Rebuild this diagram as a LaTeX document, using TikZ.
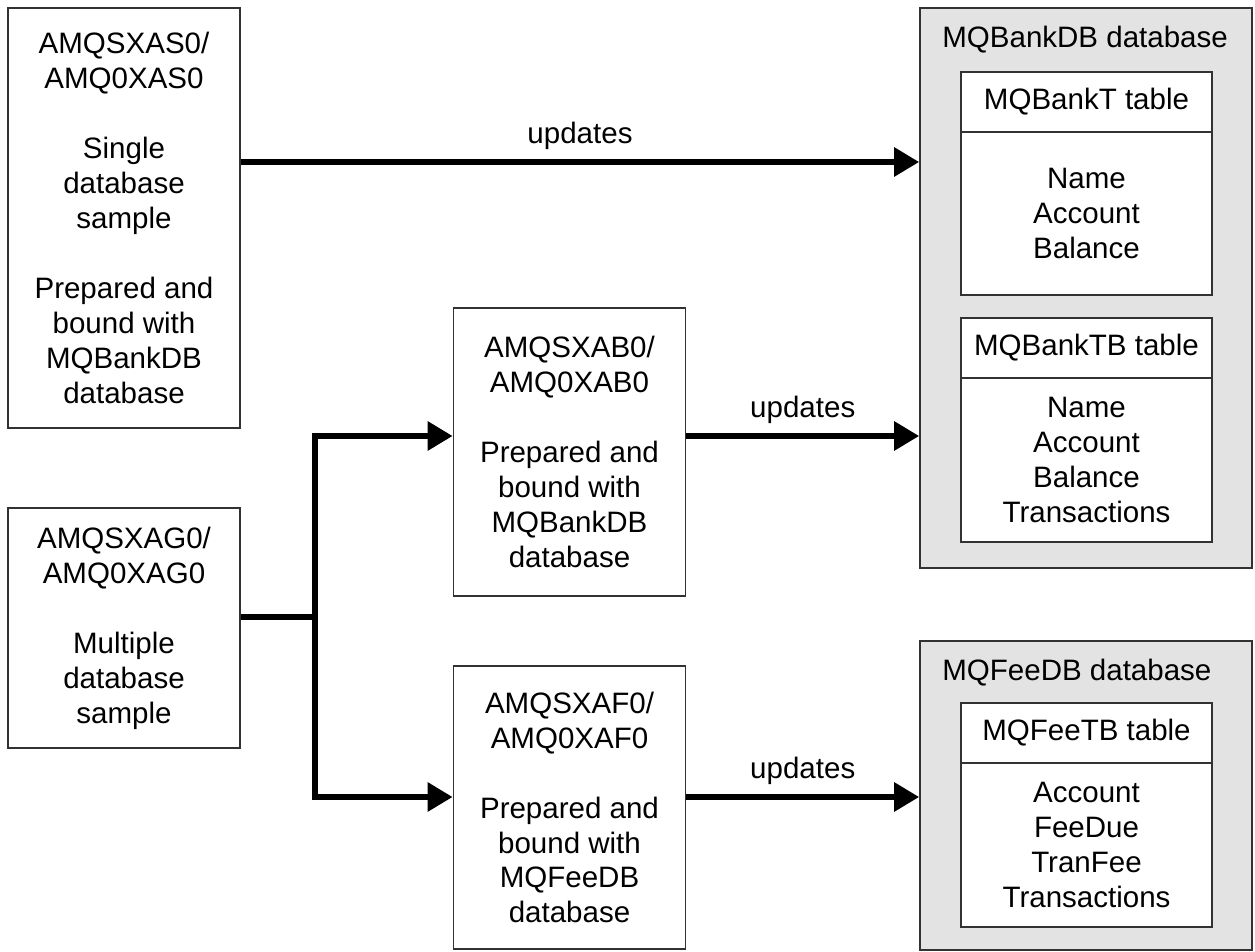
\documentclass[tikz,border=0pt]{standalone}
\usepackage{fontspec}
\setmainfont{Liberation Sans}
\usetikzlibrary{arrows.meta}

\definecolor{dbgray}{RGB}{227,227,227}
\definecolor{boxline}{RGB}{50,50,50}

\begin{document}
\begin{tikzpicture}[x=0.02cm, y=-0.02cm,
  every node/.style={font=\fontsize{16.8}{19.9}\selectfont},
  prog/.style={draw=boxline, line width=1pt, fill=white, align=center, minimum width=4.64cm, inner sep=0pt},
  db/.style={draw=boxline, line width=1pt, fill=dbgray, minimum width=6.64cm, inner sep=0pt},
  tabhead/.style={draw=boxline, line width=1pt, fill=white, minimum width=5.02cm, minimum height=1.2cm, inner sep=0pt},
  tabbody/.style={draw=boxline, line width=1pt, fill=white, align=center, minimum width=5.02cm, minimum height=3.28cm, inner sep=0pt},
  dbtitle/.style={anchor=west, inner sep=0pt},
  flow/.style={line width=3.4pt, -{Triangle[length=0.5cm, width=0.56cm]}}]
  \useasboundingbox (0,0) rectangle (1255,952);
  % programs
  \node[prog, minimum height=8.4cm] (as) at (124,218) {AMQSXAS0/\\AMQ0XAS0\\[\baselineskip]Single\\database\\sample\\[\baselineskip]Prepared and\\bound with\\MQBankDB\\database};
  \node[prog, minimum height=4.8cm] (ag) at (124,628) {AMQSXAG0/\\AMQ0XAG0\\[\baselineskip]Multiple\\database\\sample};
  \node[prog, minimum height=5.76cm] (ab) at (569.5,452) {AMQSXAB0/\\AMQ0XAB0\\[\baselineskip]Prepared and\\bound with\\MQBankDB\\database};
  \node[prog, minimum height=5.66cm] (af) at (569.5,807.5) {AMQSXAF0/\\AMQ0XAF0\\[\baselineskip]Prepared and\\bound with\\MQFeeDB\\database};
  % databases
  \node[db, minimum height=11.2cm] (bankdb) at (1086,288) {};
  \node[dbtitle] (banktitle) at (942,40) {MQBankDB database};
  \node[tabhead] (banktH) at (1086.5,102) {MQBankT table};
  \node[tabbody, minimum height=3.26cm] (banktB) at (1086.5,213.5) {Name\\Account\\Balance};
  \node[tabhead] (banktbH) at (1086.5,348) {MQBankTB table};
  \node[tabbody] (banktbB) at (1086.5,460) {Name\\Account\\Balance\\Transactions};
  \node[db, minimum height=6.18cm] (feedb) at (1086,795.5) {};
  \node[dbtitle] (feetitle) at (942,673) {MQFeeDB database};
  \node[tabhead] (feetbH) at (1086.5,733) {MQFeeTB table};
  \node[tabbody] (feetbB) at (1086.5,845) {Account\\FeeDue\\TranFee\\Transactions};
  % connectors
  \coordinate (toprow) at (0,162);
  \coordinate (rowb) at (0,436);
  \coordinate (rowf) at (0,797);
  \coordinate (fork) at (315,617);
  \draw[flow] (as.east |- toprow) -- (bankdb.west |- toprow) node[midway, above=2pt] {updates};
  \draw[line width=3.4pt] (ag.east |- fork) -- (fork);
  \draw[flow] (fork) |- (ab.west |- rowb);
  \draw[flow] (fork) |- (af.west |- rowf);
  \draw[flow] (ab.east |- rowb) -- (bankdb.west |- rowb) node[midway, above=2pt] {updates};
  \draw[flow] (af.east |- rowf) -- (feedb.west |- rowf) node[midway, above=2pt] {updates};
\end{tikzpicture}
\end{document}
